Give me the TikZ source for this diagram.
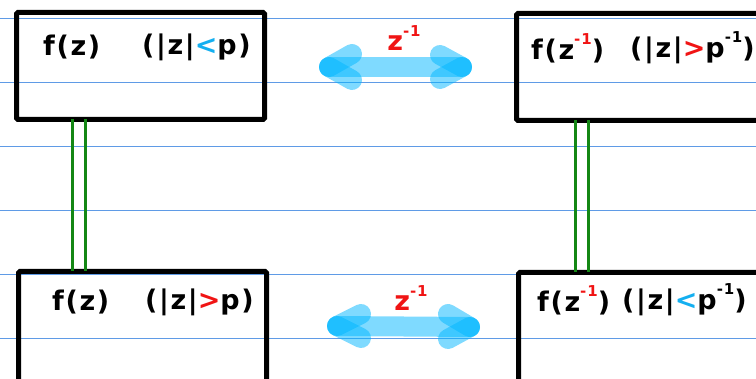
\documentclass[tikz,border=0pt]{standalone}
\usepackage{fontspec}
\setmainfont{DejaVu Sans}[LetterSpace=6]
\definecolor{ruleblue}{RGB}{95,155,230}
\definecolor{linkgreen}{RGB}{20,135,20}
\definecolor{arrowcyan}{RGB}{0,182,255}
\definecolor{ltblue}{RGB}{20,175,240}
\definecolor{hred}{RGB}{240,20,20}
\newcommand{\upx}[1]{\raisebox{0.55em}{\fontsize{15}{15}\selectfont #1}}
\begin{document}
\begin{tikzpicture}[x=1pt,y=-1pt,
  rule/.style={draw=ruleblue,line width=1pt},
  box/.style={rectangle,draw=black,line width=5pt,rounded corners=1.5pt,inner sep=0pt,outer sep=0pt,anchor=north west},
  link/.style={draw=linkgreen,line width=3pt},
  shaft/.style={draw=arrowcyan,line width=20pt,draw opacity=0.5,line cap=round},
  txt/.style={anchor=west,inner sep=0pt,font=\bfseries\fontsize{27}{29}\selectfont},
  lab/.style={inner sep=0pt,text=hred,font=\bfseries\fontsize{27}{29}\selectfont}]
\useasboundingbox (0,0) rectangle (756,379);
\clip (0,0) rectangle (756,379);
% ruled lines
\foreach \yy in {19,83,147,211,275,339} \draw[rule] (0,\yy) -- (756,\yy);
% boxes
\node[box,minimum width=248pt,minimum height=107pt] (TL) at (16.5,12.5) {};
\node[box,minimum width=300pt,minimum height=107pt] (TR) at (516.5,13.5) {};
\node[box,minimum width=248pt,minimum height=150pt] (BL) at (18.5,271.5) {};
\node[box,minimum width=300pt,minimum height=150pt] (BR) at (518.5,272.5) {};
% green double links
\draw[link] (TL.south -| 72,0) -- (BL.north -| 72,0);
\draw[link] (TL.south -| 85,0) -- (BL.north -| 85,0);
\draw[link] (TR.south -| 575,0) -- (BR.north -| 575,0);
\draw[link] (TR.south -| 588,0) -- (BR.north -| 588,0);
% texts
\node[txt] (TLa) at (43,47) {f(z)};
\node[txt] (TLb) at (142,47) {(|z|\textcolor{ltblue}{<}p)};
\node[txt] (TRa) at (531,48) {f(z\textcolor{hred}{\upx{-1}})};
\node[txt] (TRb) at (630,48) {(|z|\textcolor{hred}{>}p\upx{-1})};
\node[txt] (BLa) at (52,302) {f(z)};
\node[txt] (BLb) at (145,302) {(|z|\textcolor{hred}{>}p)};
\node[txt] (BRa) at (537,300) {f(z\textcolor{hred}{\upx{-1}})};
\node[txt] (BRb) at (622,300) {(|z|\textcolor{ltblue}{<}p\upx{-1})};
% arrows
\coordinate (A1l) at (329,67);
\coordinate (A1r) at (462,67);
\draw[shaft] (A1l) -- (A1r);
\draw[shaft] (A1l) -- ++(23,-13);
\draw[shaft] (A1l) -- ++(23,13);
\draw[shaft] (A1r) -- ++(-22,-12);
\draw[shaft] (A1r) -- ++(-22,12);
\coordinate (A2l) at (337,326);
\coordinate (A2r) at (470,327);
\draw[shaft] (A2l) -- (A2r);
\draw[shaft] (A2l) -- ++(24,-12);
\draw[shaft] (A2l) -- ++(24,12);
\draw[shaft] (A2r) -- ++(-22,-13);
\draw[shaft] (A2r) -- ++(-22,12);
% labels
\node[lab] (L1) at (404,38) {z\upx{-1}};
\node[lab] (L2) at (411,298) {z\upx{-1}};
\end{tikzpicture}
\end{document}
